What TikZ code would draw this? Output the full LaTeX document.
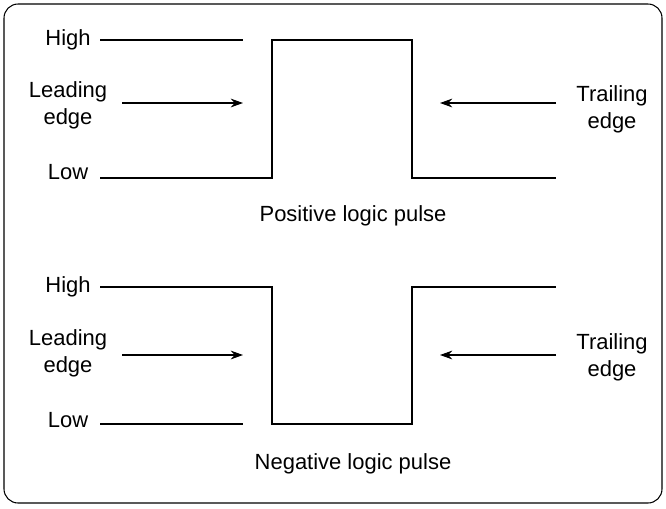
\documentclass[tikz,border=0pt]{standalone}
\usepackage{fontspec}
\setmainfont{Liberation Sans}
\usetikzlibrary{arrows.meta}
\tikzset{
  lbl/.style={font=\fontsize{12.5}{15.5}\selectfont, align=center},
  wave/.style={line width=1.4pt},
  guide/.style={line width=0.6pt},
  edgearrow/.style={-{Stealth[length=7pt,width=5pt]}, line width=0.6pt}
}
\begin{document}
\begin{tikzpicture}[x=0.02cm,y=-0.02cm]
        \useasboundingbox (0,0) rectangle (666,508);
        % Frame
        \draw[rounded corners=8pt, line width=0.6pt] (4,4) rectangle (662,503);

        % Positive logic pulse
        \node[lbl] (hiA) at (68,40) {High};
        \node[lbl] (leA) at (68,105) {Leading\\edge};
        \node[lbl] (loA) at (68,172) {Low};
        \node[lbl] (trA) at (612,109) {Trailing\\edge};
        \draw[guide] (100,40) -- (243,40);
        \draw[wave] (100,178) -- (272,178) -- (272,40) -- (412,40) -- (412,178) -- (556,178);
        \coordinate (laA) at (122,103);
        \coordinate (lbA) at (243,103);
        \coordinate (taA) at (556,103);
        \coordinate (tbA) at (440,103);
        \draw[edgearrow] (laA) -- (lbA);
        \draw[edgearrow] (taA) -- (tbA);
        \node[lbl] (capA) at (353,216) {Positive logic pulse};

        % Negative logic pulse
        \node[lbl] (hiB) at (68,287) {High};
        \node[lbl] (leB) at (68,353) {Leading\\edge};
        \node[lbl] (loB) at (68,420) {Low};
        \node[lbl] (trB) at (612,357) {Trailing\\edge};
        \draw[guide] (100,424) -- (243,424);
        \draw[wave] (100,287) -- (272,287) -- (272,424) -- (412,424) -- (412,287) -- (556,287);
        \coordinate (laB) at (122,355);
        \coordinate (lbB) at (243,355);
        \coordinate (taB) at (556,355);
        \coordinate (tbB) at (440,355);
        \draw[edgearrow] (laB) -- (lbB);
        \draw[edgearrow] (taB) -- (tbB);
        \node[lbl] (capB) at (353,464) {Negative logic pulse};
\end{tikzpicture}
\end{document}
